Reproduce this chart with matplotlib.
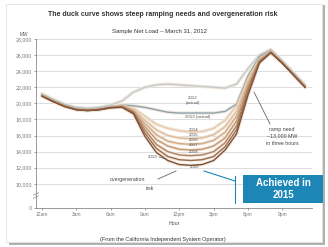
import matplotlib
matplotlib.use("Agg")
import matplotlib.pyplot as plt
from matplotlib.patches import Rectangle
from matplotlib.lines import Line2D

plt.rcParams['font.family'] = ['Liberation Sans', 'DejaVu Sans']

hours = list(range(24))
x_tick_pos = [0, 3, 6, 9, 12, 15, 18, 21]
x_tick_labels = ["12am", "3am", "6am", "9am", "12pm", "3pm", "6pm", "9pm"]
y_tick_pos = [7000, 10000, 12000, 14000, 16000, 18000, 20000, 22000, 24000, 26000, 28000]
y_tick_labels = ["0", "10,000", "12,000", "14,000", "16,000", "18,000", "20,000",
                 "22,000", "24,000", "26,000", "28,000"]

years = ["2012", "2013", "2014", "2015", "2016", "2017", "2018", "2019", "2020"]
load_2012 = [21200, 20500, 19900, 19500, 19400, 19500, 19800, 20300, 21400, 22000, 22300, 22400,
             22300, 22200, 22100, 22000, 21900, 22400, 24300, 26000, 26700, 25300, 23800, 22300]
load_2013 = [21100, 20400, 19800, 19400, 19300, 19400, 19600, 19800, 19700, 19500, 19200, 18900,
             18800, 18800, 18800, 18800, 19000, 19900, 23400, 25800, 26600, 25200, 23700, 22200]
load_2014 = [21050, 20350, 19750, 19350, 19250, 19350, 19600, 19800, 19400, 18400, 17400, 16900,
             16600, 16450, 16500, 16900, 17900, 19700, 23100, 25600, 26550, 25150, 23650, 22150]
load_2015 = [21000, 20300, 19700, 19300, 19200, 19300, 19550, 19750, 19200, 17900, 16700, 16000,
             15700, 15600, 15700, 16100, 17100, 19000, 22700, 25500, 26500, 25100, 23600, 22100]
load_2016 = [21000, 20300, 19700, 19300, 19200, 19300, 19550, 19700, 19100, 17500, 16100, 15300,
             15000, 14900, 15000, 15400, 16400, 18400, 22400, 25400, 26450, 25100, 23600, 22100]
load_2017 = [20950, 20250, 19650, 19250, 19150, 19250, 19500, 19650, 19000, 17100, 15500, 14700,
             14300, 14200, 14300, 14700, 15700, 17800, 22100, 25300, 26400, 25050, 23550, 22050]
load_2018 = [20950, 20250, 19650, 19250, 19150, 19250, 19500, 19600, 18900, 16700, 14900, 14000,
             13600, 13500, 13600, 14000, 15100, 17200, 21800, 25200, 26350, 25000, 23500, 22000]
load_2019 = [20900, 20200, 19600, 19200, 19100, 19200, 19450, 19550, 18800, 16300, 14400, 13400,
             13000, 12900, 13000, 13400, 14600, 16700, 21400, 25100, 26300, 25000, 23500, 22000]
load_2020 = [20900, 20200, 19600, 19200, 19100, 19200, 19450, 19500, 18700, 15900, 13900, 12900,
             12400, 12300, 12400, 12900, 14200, 16200, 21000, 25000, 26300, 25000, 23500, 22000]
series = [load_2012, load_2013, load_2014, load_2015, load_2016, load_2017, load_2018, load_2019, load_2020]
colors = ["#c2ccd3", "#8ea3b1", "#e6cdb2", "#dcbd9d", "#d0ab88", "#c29874", "#b08262", "#9a6c4f", "#7d543b"]

W, H = 328, 247
fig = plt.figure(figsize=(W / 100, H / 100), dpi=100)
fig.patch.set_facecolor("white")

def fx(px):
    return px / W

def fy(py):
    return 1 - py / H

# outer frame with shadow
fig.patches.append(Rectangle((fx(9), fy(245)), fx(316), 240 / H, transform=fig.transFigure,
                             facecolor="#b0b0b0", edgecolor="none", zorder=-2))
fig.patches.append(Rectangle((fx(6), fy(242)), fx(316), 238 / H, transform=fig.transFigure,
                             facecolor="white", edgecolor="#e2e2e2", linewidth=0.6, zorder=-1))

ax = fig.add_axes([fx(36), fy(208), fx(312 - 36), (208 - 39) / H])
ax.set_zorder(1)
ax.patch.set_alpha(0)
ax.set_xlim(-0.52, 23.6)
ax.set_ylim(7000, 28000)
for v in y_tick_pos[1:]:
    ax.axhline(v, color="#dcdcdc", linewidth=0.7, zorder=0)

for s in series:
    ax.plot(hours, s, color="#f3e6d8", linewidth=2.4, solid_capstyle="round", zorder=1)
for s, c in zip(series, colors):
    ax.plot(hours, s, color=c, linewidth=1.0, zorder=2)

ax.set_xticks(x_tick_pos)
ax.set_xticklabels(x_tick_labels, fontsize=3.5, color="#555555")
ax.set_yticks(y_tick_pos)
ax.set_yticklabels(y_tick_labels, fontsize=3.8, color="#555555")
ax.tick_params(axis="both", length=1.5, width=0.5, colors="#777777", pad=1.5)
for side in ["top", "right"]:
    ax.spines[side].set_visible(False)
for side in ["left", "bottom"]:
    ax.spines[side].set_color("#888888")
    ax.spines[side].set_linewidth(0.6)
ax.set_xlabel("Hour", fontsize=3.8, color="#555555", labelpad=3)

# axis break marks
ax.plot([-0.75, -0.3], [8600, 8900], color="#888888", lw=0.5, clip_on=False)
ax.plot([-0.75, -0.3], [8200, 8500], color="#888888", lw=0.5, clip_on=False)

# texts
fig.text(fx(163), fy(14), "The duck curve shows steep ramping needs and overgeneration risk",
         ha="center", va="center", fontsize=5.0, fontweight="bold", color="#333333")
fig.text(fx(160), fy(32), "Sample Net Load \u2013 March 31, 2012", ha="center", va="center",
         fontsize=4.3, color="#333333")
fig.text(fx(24), fy(34), "MW", ha="center", va="center", fontsize=3.4, color="#555555")
fig.text(fx(163), fy(239), "(From the California Independent System Operator)", ha="center",
         va="center", fontsize=4.0, color="#333333")

lab_fs = 3.2
fig.text(fx(193), fy(98), "2012", ha="center", va="center", fontsize=lab_fs, color="#555555")
fig.text(fx(193), fy(103), "(actual)", ha="center", va="center", fontsize=lab_fs, color="#555555")
fig.text(fx(198), fy(117), "2013 (actual)", ha="center", va="center", fontsize=lab_fs, color="#555555")
for lbl, py in zip(["2014", "2015", "2016", "2017", "2018"], [130, 135, 140, 145, 152]):
    fig.text(fx(194), fy(py), lbl, ha="center", va="center", fontsize=lab_fs, color="#555555")
fig.text(fx(153), fy(157), "2019", ha="center", va="center", fontsize=lab_fs, color="#555555")
fig.lines.append(Line2D([fx(159), fx(166)], [fy(157), fy(159)], transform=fig.transFigure,
                        color="#666666", lw=0.5))
fig.text(fx(195), fy(167), "2020", ha="center", va="center", fontsize=lab_fs, color="#555555")

fig.text(fx(282), fy(129), "ramp need", ha="center", va="center", fontsize=3.8, color="#444444")
fig.text(fx(282), fy(136), "~13,000 MW", ha="center", va="center", fontsize=3.8, color="#444444")
fig.text(fx(282), fy(143), "in three hours", ha="center", va="center", fontsize=3.8, color="#444444")
fig.lines.append(Line2D([fx(254), fx(270)], [fy(92), fy(124)], transform=fig.transFigure,
                        color="#666666", lw=0.6))

fig.text(fx(128), fy(179), "overgeneration", ha="center", va="center", fontsize=3.8, color="#444444")
fig.text(fx(150), fy(188), "risk", ha="center", va="center", fontsize=3.8, color="#444444")
fig.lines.append(Line2D([fx(158), fx(176)], [fy(179), fy(171)], transform=fig.transFigure,
                        color="#666666", lw=0.6))

# Achieved in 2015 callout
blue = "#1c86b7"
fig.lines.append(Line2D([fx(204), fx(235)], [fy(171), fy(181)], transform=fig.transFigure,
                        color=blue, lw=0.8))
fig.lines.append(Line2D([fx(235), fx(235)], [fy(176), fy(203)], transform=fig.transFigure,
                        color=blue, lw=0.8))
fig.patches.append(Rectangle((fx(243), fy(203)), fx(80), 28 / H, transform=fig.transFigure,
                             facecolor=blue, edgecolor="none", zorder=3))
fig.text(fx(283), fy(182.5), "Achieved in", ha="center", va="center", fontsize=7.0,
         fontweight="bold", color="white", zorder=4)
fig.text(fx(283), fy(195.5), "2015", ha="center", va="center", fontsize=7.0,
         fontweight="bold", color="white", zorder=4)

fig.savefig("out.png", dpi=100)
